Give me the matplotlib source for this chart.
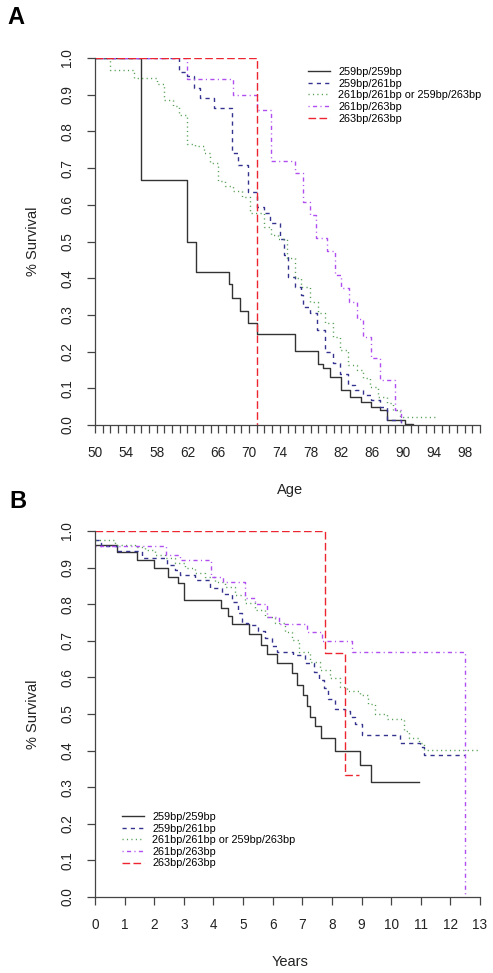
import matplotlib
matplotlib.use('Agg')
import matplotlib.pyplot as plt

plt.rcParams['font.family'] = ['Liberation Sans', 'DejaVu Sans']

# Panel A: survival vs age (step times, survival after each step)
labels = ['259bp/259bp', '259bp/261bp', '261bp/261bp or 259bp/263bp',
          '261bp/263bp', '263bp/263bp']

a_259_259_age = [50, 56.0, 61.9, 63.1, 67.4, 67.8, 68.8, 69.9, 71.0, 76.0, 79.0,
                 79.65, 80.5, 82.0, 83.1, 84.6, 85.9, 87.0, 87.9, 90.3, 91.3]
a_259_259_surv = [1.0, 0.667, 0.5, 0.417, 0.384, 0.345, 0.311, 0.279, 0.248, 0.202, 0.167,
                  0.154, 0.131, 0.095, 0.077, 0.064, 0.05, 0.04, 0.013, 0.004, 0.0]

a_259_261_age = [50, 60.9, 61.9, 62.8, 63.7, 65.5, 67.75, 68.6, 69.9, 71.0, 71.9, 72.7,
                 74.0, 74.5, 75.1, 76.0, 76.8, 77.05, 77.9, 78.8, 79.9, 80.9, 81.8,
                 82.9, 83.8, 84.8, 85.9, 87.0, 87.9, 89.8]
a_259_261_surv = [1.0, 0.963, 0.95, 0.917, 0.891, 0.864, 0.74, 0.708, 0.636, 0.595, 0.577,
                  0.55, 0.508, 0.463, 0.404, 0.377, 0.354, 0.322, 0.304, 0.26, 0.20,
                  0.168, 0.14, 0.11, 0.095, 0.082, 0.068, 0.05, 0.013, 0.0]

a_261_261_age = [50, 52.0, 55.0, 58.0, 59.0, 60.1, 60.9, 61.9, 63.0, 64.1, 64.9, 66.0,
                 66.9, 67.96, 69.05, 70.1, 71.9, 72.9, 73.8, 74.9, 76.0, 76.8, 77.9,
                 79.0, 79.9, 80.9, 81.8, 82.9, 84.0, 84.85, 85.7, 86.8, 87.9, 88.7,
                 89.6, 94.6]
a_261_261_surv = [1.0, 0.968, 0.945, 0.93, 0.885, 0.87, 0.845, 0.767, 0.76, 0.742, 0.715,
                  0.665, 0.651, 0.637, 0.622, 0.577, 0.54, 0.517, 0.508, 0.454, 0.40,
                  0.377, 0.336, 0.304, 0.277, 0.24, 0.204, 0.163, 0.15, 0.127, 0.104,
                  0.077, 0.059, 0.04, 0.022, 0.022]

a_261_263_age = [50, 61.9, 67.9, 71.0, 72.9, 76.0, 77.05, 77.9, 78.7, 80.1, 81.2, 82.0,
                 83.0, 84.0, 84.85, 85.9, 87.0, 88.96, 89.7]
a_261_263_surv = [1.0, 0.943, 0.90, 0.858, 0.719, 0.686, 0.608, 0.572, 0.509, 0.473,
                  0.409, 0.373, 0.336, 0.29, 0.24, 0.183, 0.123, 0.04, 0.0]

a_263_263_age = [50, 71.0]
a_263_263_surv = [1.0, 0.0]

# Panel B: survival vs years
b_259_259_yr = [0, 0.73, 1.41, 2.0, 2.48, 2.81, 3.02, 4.25, 4.48, 4.61, 5.21, 5.6, 5.8,
                6.13, 6.66, 6.82, 7.02, 7.15, 7.26, 7.43, 7.62, 8.11, 8.95, 9.32, 10.93]
b_259_259_surv = [0.962, 0.942, 0.921, 0.898, 0.875, 0.857, 0.812, 0.79, 0.769, 0.745,
                  0.718, 0.689, 0.664, 0.639, 0.611, 0.579, 0.552, 0.522, 0.493, 0.466,
                  0.434, 0.398, 0.360, 0.313, 0.313]

b_259_261_yr = [0, 0.2, 0.73, 1.58, 2.42, 2.7, 2.87, 3.38, 3.88, 4.28, 4.61, 4.84, 4.95,
                5.18, 5.5, 5.74, 5.96, 6.13, 6.7, 7.1, 7.38, 7.58, 7.72, 7.88, 8.11,
                8.45, 8.62, 8.78, 9.0, 10.3, 10.98, 11.12, 12.5]
b_259_261_surv = [0.975, 0.96, 0.945, 0.925, 0.907, 0.894, 0.88, 0.866, 0.844, 0.827,
                  0.807, 0.775, 0.75, 0.742, 0.727, 0.707, 0.687, 0.67, 0.661, 0.638,
                  0.615, 0.593, 0.57, 0.542, 0.515, 0.508, 0.492, 0.474, 0.442, 0.421,
                  0.41, 0.388, 0.388]

b_261_261_yr = [0, 0.68, 1.35, 1.69, 2.03, 2.36, 2.7, 3.04, 3.38, 3.71, 4.05, 4.39, 4.73,
                5.06, 5.4, 5.74, 6.08, 6.41, 6.64, 6.9, 7.26, 7.6, 7.94, 8.28, 8.5, 8.95,
                9.23, 9.46, 9.86, 10.42, 10.59, 10.93, 11.1, 13.0]
b_261_261_surv = [0.975, 0.962, 0.957, 0.948, 0.935, 0.925, 0.912, 0.898, 0.886, 0.875,
                  0.862, 0.848, 0.825, 0.803, 0.784, 0.766, 0.748, 0.725, 0.703, 0.67,
                  0.643, 0.62, 0.598, 0.575, 0.562, 0.553, 0.526, 0.499, 0.485, 0.453,
                  0.434, 0.42, 0.402, 0.402]

b_261_263_yr = [0, 2.4, 2.87, 3.9, 4.33, 5.06, 5.4, 5.8, 6.2, 7.15, 7.65, 8.67, 12.5]
b_261_263_surv = [0.96, 0.934, 0.92, 0.875, 0.86, 0.818, 0.80, 0.765, 0.745, 0.725, 0.70,
                  0.67, 0.0]

b_263_263_yr = [0, 7.75, 8.45, 8.9]
b_263_263_surv = [1.0, 0.667, 0.333, 0.333]

colors = ['#333333', '#34348f', '#4f9a4f', '#b04ff0', '#ec2530']
dashes = [None, (3, 3), (0.8, 2.4), (0.8, 2.4, 3, 2.4), (5.5, 2.4)]

fig = plt.figure(figsize=(4.93, 9.73), dpi=100)
W, H = 493, 973


def make_axes(left, right, top, bottom):
    return fig.add_axes([left / W, 1 - bottom / H, (right - left) / W, (bottom - top) / H])


def draw(ax, xs, ys):
    for x, y, c, d, lab in zip(xs, ys, colors, dashes, labels):
        line, = ax.step(x, y, where='post', color=c, lw=1.0, label=lab)
        if d is not None:
            line.set_dashes(d)


def style(ax):
    for s in ['top', 'right']:
        ax.spines[s].set_visible(False)
    for s in ['left', 'bottom']:
        ax.spines[s].set_color('#444444')
        ax.spines[s].set_linewidth(0.9)
    ax.tick_params(length=6, width=0.9, color='#444444', labelsize=9.8,
                   labelcolor='#222222', pad=9)
    yt = [i / 10 for i in range(11)]
    ax.set_ylim(0, 1)
    ax.set_yticks(yt)
    ax.set_yticklabels(['%.1f' % v for v in yt], rotation=90, va='center')


def add_legend(ax, x, y):
    ax.legend(loc='upper left', bbox_to_anchor=(x / W, 1 - y / H),
              bbox_transform=fig.transFigure, frameon=False, fontsize=7.8,
              handlelength=2.0, handletextpad=0.8, labelspacing=0.15,
              borderpad=0, borderaxespad=0)


# ---- panel A
axA = make_axes(95, 480, 58, 425)
draw(axA,
     [a_259_259_age, a_259_261_age, a_261_261_age, a_261_263_age, a_263_263_age],
     [a_259_259_surv, a_259_261_surv, a_261_261_surv, a_261_263_surv, a_263_263_surv])
style(axA)
axA.set_xlim(50, 100)
ages = list(range(50, 101))
axA.set_xticks(ages)
axA.set_xticklabels([str(a) if (a - 50) % 4 == 0 and a < 100 else '' for a in ages])
add_legend(axA, 308, 67)

# ---- panel B
axB = make_axes(95, 480, 531, 897)
draw(axB,
     [b_259_259_yr, b_259_261_yr, b_261_261_yr, b_261_263_yr, b_263_263_yr],
     [b_259_259_surv, b_259_261_surv, b_261_261_surv, b_261_263_surv, b_263_263_surv])
style(axB)
axB.set_xlim(0, 13)
axB.set_xticks(range(14))
add_legend(axB, 122, 812)

# labels
fig.text(290 / W, 1 - 490 / H, 'Age', ha='center', va='center', fontsize=10.5, color='#222222')
fig.text(290 / W, 1 - 962 / H, 'Years', ha='center', va='center', fontsize=10.5, color='#222222')
fig.text(33 / W, 1 - 241 / H, '% Survival', ha='center', va='center', rotation=90,
         fontsize=10.5, color='#222222')
fig.text(33 / W, 1 - 714 / H, '% Survival', ha='center', va='center', rotation=90,
         fontsize=10.5, color='#222222')
fig.text(7 / W, 1 - 17 / H, 'A', ha='left', va='center', fontsize=17, fontweight='bold')
fig.text(9 / W, 1 - 502 / H, 'B', ha='left', va='center', fontsize=17, fontweight='bold')

fig.savefig('out.png', dpi=100)
